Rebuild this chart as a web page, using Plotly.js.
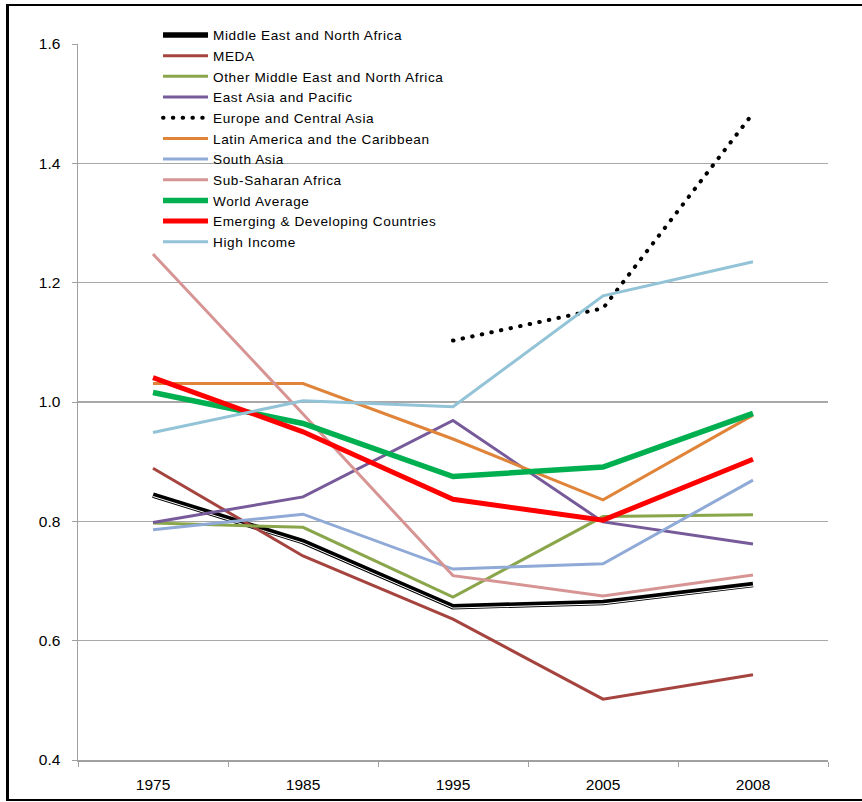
<!DOCTYPE html>
<html>
<head>
<meta charset="utf-8">
<script src="https://cdn.plot.ly/plotly-3.0.1.min.js"></script>
<style>
html,body{margin:0;padding:0;background:#fff;overflow:hidden;}
#wrap{position:relative;width:862px;height:802px;}
#chart{width:862px;height:802px;}
#frame{position:absolute;left:6px;top:4px;width:900px;height:797px;box-sizing:border-box;
  border-top:2.5px solid #000;border-left:3px solid #000;border-bottom:2.5px solid #000;pointer-events:none;}
.dotline path.js-line{stroke-linecap:round;}
.stripe path.js-line{transform:translate(0px,1.4px);}
#chart .legendtext{letter-spacing:0.6px;}
</style>
</head>
<body>
<div id="wrap"><div id="chart"></div><div id="frame"></div></div>
<script>
var years = ['1975','1985','1995','2005','2008'];
var yTicks = [0.4, 0.6, 0.8, 1.0, 1.2, 1.4, 1.6];

var mena       = [0.844, 0.766, 0.657, 0.664, 0.694];
var meda       = [0.889, 0.742, 0.636, 0.502, 0.543];
var otherMena  = [0.797, 0.790, 0.673, 0.808, 0.811];
var eastAsia   = [0.798, 0.841, 0.969, 0.799, 0.762];
var europe     = [null, null, 1.103, 1.157, 1.484];
var latam      = [1.031, 1.031, 0.938, 0.836, 0.978];
var southAsia  = [0.786, 0.812, 0.720, 0.729, 0.869];
var ssa        = [1.248, 0.980, 0.709, 0.675, 0.710];
var world      = [1.016, 0.964, 0.875, 0.891, 0.981];
var emerging   = [1.041, 0.950, 0.837, 0.802, 0.904];
var highIncome = [0.949, 1.002, 0.992, 1.178, 1.235];

function tr(name, y, color, width, extra) {
  var t = {type:'scatter', mode:'lines', name:name, x:years, y:y,
    line:{color:color, width:width}, connectgaps:false, hoverinfo:'skip'};
  if (extra) for (var k in extra) t[k] = extra[k];
  return t;
}

var traces = [
  tr('Middle East and North Africa', mena, '#000000', 5.5),
  tr('MEDA', meda, '#a5443f', 3),
  tr('Other Middle East and North Africa', otherMena, '#8aa64b', 3),
  tr('East Asia and Pacific', eastAsia, '#775a9a', 3),
  tr('Europe and Central Asia', europe, '#000000', 4, {line:{color:'#000000', width:4, dash:'0.5px,9.3px'}}),
  tr('Latin America and the Caribbean', latam, '#df8439', 3),
  tr('South Asia', southAsia, '#8faad6', 3),
  tr('Sub-Saharan Africa', ssa, '#d69594', 3),
  tr('World Average', world, '#00b050', 5.5),
  tr('Emerging & Developing Countries', emerging, '#ff0000', 5),
  tr('High Income', highIncome, '#92c3d6', 3)
];
// white inner stripe of the double black line
traces.splice(1, 0, tr('MENA stripe', mena, '#ffffff', 1, {showlegend:false}));

var axisFont = {family:'Liberation Sans, Arial, sans-serif', size:15.5, color:'#000'};

var layout = {
  width:862, height:802,
  margin:{l:78, r:34, t:44, b:42},
  paper_bgcolor:'#ffffff', plot_bgcolor:'#ffffff',
  showlegend:true,
  legend:{x:0.1067, y:1.034, xanchor:'left', yanchor:'top',
    bgcolor:'rgba(0,0,0,0)', borderwidth:0,
    font:{family:'Liberation Sans, Arial, sans-serif', size:13.6, color:'#000'},
    itemwidth:45, traceorder:'normal'},
  xaxis:{type:'category', categoryorder:'array', categoryarray:years,
    range:[-0.5, 4.5], tickson:'boundaries', ticks:'outside', ticklen:5,
    tickcolor:'#a0a0a0', showline:true, linecolor:'#a0a0a0', linewidth:1.5,
    showgrid:false, zeroline:false, tickfont:axisFont, ticklabelstandoff:10, fixedrange:true},
  yaxis:{range:[0.4, 1.6], tickvals:yTicks, ticktext:yTicks.map(function(v){return v.toFixed(1);}),
    ticks:'outside', ticklen:5, tickcolor:'#a0a0a0',
    showline:true, linecolor:'#a0a0a0', linewidth:1.5,
    showgrid:true, gridcolor:'#a8a8a8', gridwidth:1.2, zeroline:false,
    tickfont:axisFont, ticklabelstandoff:8, fixedrange:true}
};

Plotly.newPlot('chart', traces, layout, {displayModeBar:false, staticPlot:true}).then(function(){
  var groups = document.querySelectorAll('#chart .scatterlayer .trace');
  if (groups[1]) groups[1].classList.add('stripe');
  if (groups[5]) groups[5].classList.add('dotline');
  var leg = document.querySelectorAll('#chart .legend .traces');
  leg.forEach(function(g){
    var t = g.querySelector('.legendtext');
    if (t && t.textContent === 'Europe and Central Asia') g.classList.add('dotline');
  });
  // widen legend clip so letter-spaced text is not cut
  document.querySelectorAll('#chart clipPath').forEach(function(cp){
    if (cp.id && cp.id.indexOf('legend') === 0) {
      var r = cp.querySelector('rect');
      if (r) r.setAttribute('width', 500);
    }
  });
});
</script>
</body>
</html>
